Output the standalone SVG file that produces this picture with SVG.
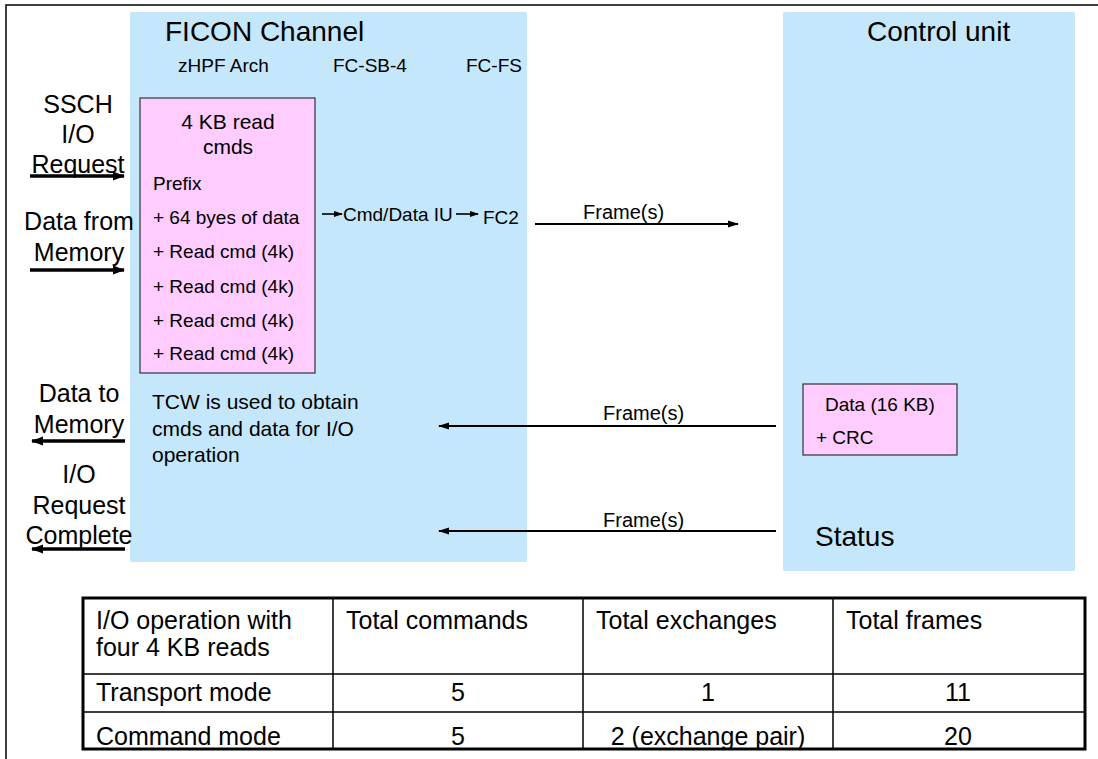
<svg xmlns="http://www.w3.org/2000/svg" width="1098" height="759" viewBox="0 0 1098 759">
<style>
text{font-family:"Liberation Sans",Arial,sans-serif;fill:#000}
.blue{fill:#C4E7FB}
.pink{fill:#FFCCFF;stroke:#333;stroke-width:1.2}
.t28{font-size:28px}
.t25{font-size:25px}
.t21{font-size:21px}
.t20{font-size:20px}
.t19{font-size:19px}
.mid{text-anchor:middle}
.thick{stroke:#000;stroke-width:3.5;fill:none}
.thin{stroke:#000;stroke-width:2;fill:none}
.tiny{stroke:#000;stroke-width:1.6;fill:none}
.grid{stroke:#000;stroke-width:1.5;fill:none}
</style>
<defs>
<marker id="hBig" markerUnits="userSpaceOnUse" markerWidth="12" markerHeight="10" refX="11" refY="5" orient="auto"><path d="M0,0.5 L12,5 L0,9.5 z" fill="#000"/></marker>
<marker id="hMid" markerUnits="userSpaceOnUse" markerWidth="11" markerHeight="8" refX="10" refY="4" orient="auto"><path d="M0,0.5 L11,4 L0,7.5 z" fill="#000"/></marker>
<marker id="hSmall" markerUnits="userSpaceOnUse" markerWidth="9" markerHeight="7" refX="8" refY="3.5" orient="auto"><path d="M0,0.5 L9,3.5 L0,6.5 z" fill="#000"/></marker>
</defs>
<rect width="1098" height="759" fill="#fff"/>
<g id="frame"><path d="M6,759 V5 H1098" fill="none" stroke="#000" stroke-width="1.5"/></g>

<g id="ficon-channel">
<rect class="blue" x="130" y="12" width="397" height="550" rx="2"/>
<text class="t28" x="165" y="41">FICON Channel</text>
<text class="t19" x="178" y="72">zHPF Arch</text>
<text class="t19" x="333" y="72">FC-SB-4</text>
<text class="t19" x="466" y="72">FC-FS</text>
<text class="t21" x="152" y="409">TCW is used to obtain</text>
<text class="t21" x="152" y="436">cmds and data for I/O</text>
<text class="t21" x="152" y="462">operation</text>
</g>

<g id="read-cmds">
<rect class="pink" x="140" y="98" width="175" height="275"/>
<text class="t21 mid" x="228" y="129">4 KB read</text>
<text class="t21 mid" x="228" y="154">cmds</text>
<text class="t19" x="153" y="190">Prefix</text>
<text class="t19" x="153" y="224">+ 64 byes of data</text>
<text class="t19" x="153" y="258">+ Read cmd (4k)</text>
<text class="t19" x="153" y="293">+ Read cmd (4k)</text>
<text class="t19" x="153" y="327">+ Read cmd (4k)</text>
<text class="t19" x="153" y="360">+ Read cmd (4k)</text>
</g>

<g id="iu-labels">
<text class="t19" x="343" y="221">Cmd/Data IU</text>
<text class="t19" x="483" y="224">FC2</text>
</g>

<g id="control-unit">
<rect class="blue" x="783" y="12" width="292" height="559" rx="2"/>
<text class="t28" x="867" y="41">Control unit</text>
<text class="t28" x="815" y="546">Status</text>
</g>

<g id="data-box">
<rect class="pink" x="803" y="384" width="154" height="71"/>
<text class="t19" x="825" y="411">Data (16 KB)</text>
<text class="t19" x="816" y="444">+ CRC</text>
</g>

<g id="side-labels">
<text class="t25 mid" x="78" y="113">SSCH</text>
<text class="t25 mid" x="78" y="143">I/O</text>
<text class="t25 mid" x="78" y="173">Request</text>
<text class="t25 mid" x="79" y="230">Data from</text>
<text class="t25 mid" x="79" y="261">Memory</text>
<text class="t25 mid" x="79" y="402">Data to</text>
<text class="t25 mid" x="79" y="433">Memory</text>
<text class="t25 mid" x="79" y="483">I/O</text>
<text class="t25 mid" x="79" y="514">Request</text>
<text class="t25 mid" x="79" y="544">Complete</text>
</g>

<g id="connectors">
<line class="thick" x1="30" y1="176" x2="124" y2="176" marker-end="url(#hBig)"/>
<line class="thick" x1="30" y1="270" x2="124" y2="270" marker-end="url(#hBig)"/>
<line class="thick" x1="125" y1="441" x2="32" y2="441" marker-end="url(#hBig)"/>
<line class="thick" x1="125" y1="549" x2="32" y2="549" marker-end="url(#hBig)"/>
<line class="tiny" x1="322" y1="214" x2="342" y2="214" marker-end="url(#hSmall)"/>
<line class="tiny" x1="456" y1="214" x2="478" y2="214" marker-end="url(#hSmall)"/>
<line class="thin" x1="535" y1="224" x2="738" y2="224" marker-end="url(#hMid)"/>
<line class="thin" x1="776" y1="426" x2="439" y2="426" marker-end="url(#hMid)"/>
<line class="thin" x1="776" y1="531" x2="439" y2="531" marker-end="url(#hMid)"/>
<text class="t20" x="583" y="219">Frame(s)</text>
<text class="t20" x="603" y="420">Frame(s)</text>
<text class="t20" x="603" y="527">Frame(s)</text>
</g>

<g id="table">
<rect x="83" y="598" width="1002" height="151" fill="#fff" stroke="#000" stroke-width="3"/>
<path class="grid" d="M333,598 V749 M583,598 V749 M833,598 V749 M83,674 H1085 M83,712 H1085"/>
<text class="t25" x="96" y="629">I/O operation with</text>
<text class="t25" x="96" y="656">four 4 KB reads</text>
<text class="t25" x="346" y="629">Total commands</text>
<text class="t25" x="596" y="629">Total exchanges</text>
<text class="t25" x="846" y="629">Total frames</text>
<text class="t25" x="96" y="701">Transport mode</text>
<text class="t25 mid" x="458" y="701">5</text>
<text class="t25 mid" x="708" y="701">1</text>
<text class="t25 mid" x="958" y="701">11</text>
<text class="t25" x="96" y="745">Command mode</text>
<text class="t25 mid" x="458" y="745">5</text>
<text class="t25 mid" x="708" y="745">2 (exchange pair)</text>
<text class="t25 mid" x="958" y="745">20</text>
</g>
</svg>
